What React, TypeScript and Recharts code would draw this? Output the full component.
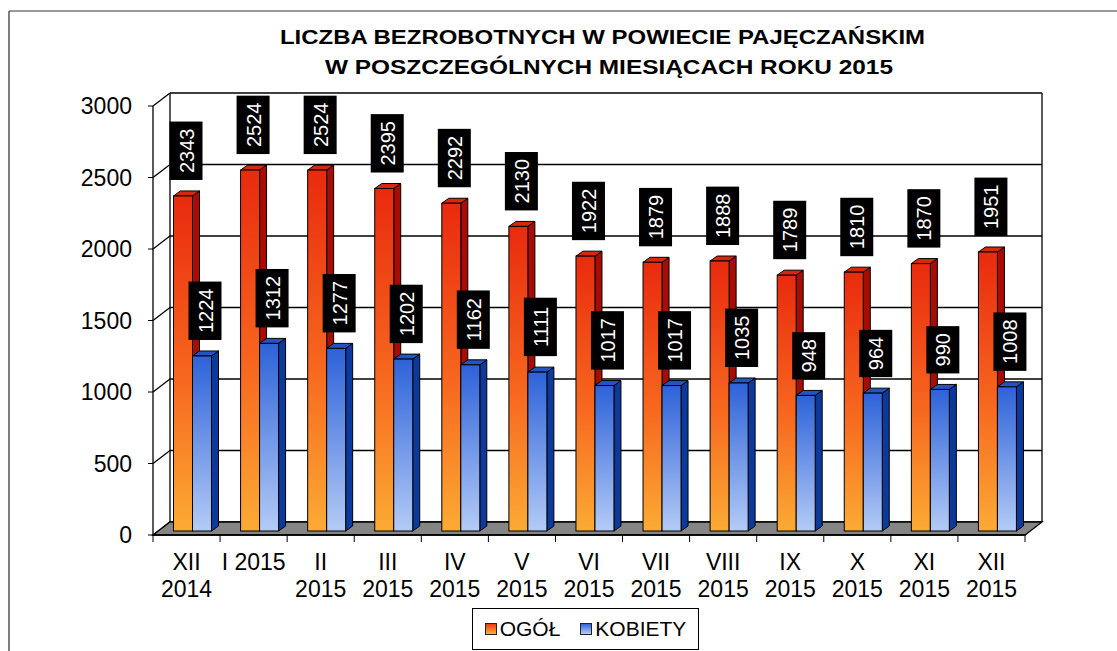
import React from 'react';
import { BarChart, Bar, XAxis, YAxis, CartesianGrid, Legend, LabelList, ReferenceArea } from 'recharts';

const months = ['XII\n2014', 'I 2015', 'II\n2015', 'III\n2015', 'IV\n2015', 'V\n2015', 'VI\n2015', 'VII\n2015', 'VIII\n2015', 'IX\n2015', 'X\n2015', 'XI\n2015', 'XII\n2015'];
const ogol = [2343, 2524, 2524, 2395, 2292, 2130, 1922, 1879, 1888, 1789, 1810, 1870, 1951];
const kobiety = [1224, 1312, 1277, 1202, 1162, 1111, 1017, 1017, 1035, 948, 964, 990, 1008];
const yTicks = [0, 500, 1000, 1500, 2000, 2500, 3000];

const data = months.map((m, i) => ({ month: m, ogol: ogol[i], kobiety: kobiety[i] }));

const FONT = 'Arial, "Liberation Sans", sans-serif';
const W = 1117;
const H = 651;
const PLOT_LEFT = 153;
const PLOT_RIGHT = 1025;
const HALF_BAND = (PLOT_RIGHT - PLOT_LEFT) / months.length / 2;
// 3D wall offset
const DX = 17;
const DY = 13;
// bar front offset and depth
const OX = 5.5;
const OY = 4;
const BD = 7;
const BDY = 5;

const make3DBar = (side: string, topC: string) => (props: any) => {
  const { x, y, width, height, fill } = props;
  if (!height || height <= 0) return null;
  const fx = x + OX;
  const fy = y - OY;
  return (
    <g>
      <polygon
        points={`${fx + width},${fy} ${fx + width + BD},${fy - BDY} ${fx + width + BD},${fy + height - BDY} ${fx + width},${fy + height}`}
        fill={side}
        stroke="#000"
        strokeWidth={1}
      />
      <polygon
        points={`${fx},${fy} ${fx + BD},${fy - BDY} ${fx + width + BD},${fy - BDY} ${fx + width},${fy}`}
        fill={topC}
        stroke="#000"
        strokeWidth={1}
      />
      <rect x={fx} y={fy} width={width} height={height} fill={fill} stroke="#000" strokeWidth={1} />
    </g>
  );
};

const renderLabel = (props: any) => {
  const { x, y, width, value } = props;
  const txt = String(value);
  const cx = x + OX + width / 2 + 3;
  const bottom = y - OY - 16;
  const h = txt.length * 11.1 + 14;
  const w = 33;
  return (
    <g>
      <rect x={cx - w / 2} y={bottom - h} width={w} height={h} fill="#000" />
      <text
        transform={`translate(${cx + 7.5},${bottom - h / 2}) rotate(-90)`}
        textAnchor="middle"
        fill="#fff"
        fontSize={20}
        fontFamily={FONT}
      >
        {txt}
      </text>
    </g>
  );
};

const gridLine = (p: any) => {
  const { x1, y1, x2 } = p;
  return (
    <g key={p.key}>
      <line x1={x1} y1={y1} x2={x1 + DX} y2={y1 - DY} stroke="#000" strokeWidth={1.3} />
      <line x1={x1 + DX} y1={y1 - DY} x2={x2 + DX} y2={y1 - DY} stroke="#000" strokeWidth={1.3} />
    </g>
  );
};

const walls = (p: any) => {
  const { x, y, width, height } = p;
  const L = x;
  const R = x + width;
  const T = y;
  const B = y + height;
  return (
    <g>
      <line x1={L + DX} y1={T - DY} x2={L + DX} y2={B - DY} stroke="#000" strokeWidth={1.3} />
      <line x1={R + DX} y1={T - DY} x2={R + DX} y2={B - DY} stroke="#000" strokeWidth={1.3} />
      <polygon
        points={`${L},${B} ${R},${B} ${R + DX},${B - DY} ${L + DX},${B - DY}`}
        fill="#858585"
        stroke="#000"
        strokeWidth={1.3}
      />
    </g>
  );
};

const XTick = (props: any) => {
  const { x, y, payload, index } = props;
  const lines = String(payload.value).split('\n');
  return (
    <g>
      <line x1={x - HALF_BAND} y1={y} x2={x - HALF_BAND} y2={y + 7} stroke="#000" />
      {index === months.length - 1 && (
        <line x1={x + HALF_BAND} y1={y} x2={x + HALF_BAND} y2={y + 7} stroke="#000" />
      )}
      <text textAnchor="middle" fontSize={23} fontFamily={FONT} fill="#000">
        {lines.map((l, i) => (
          <tspan key={i} x={x} y={y + 35 + i * 27}>
            {l}
          </tspan>
        ))}
      </text>
    </g>
  );
};

const legendItems = [
  { label: 'OGÓŁ', grad: 'linear-gradient(#ee3a14, #fbb03a)' },
  { label: 'KOBIETY', grad: 'linear-gradient(#2f66dc, #b6cdf8)' },
];

const LegendBox = () => (
  <div
    style={{
      border: '1px solid #000',
      boxSizing: 'border-box',
      height: 42,
      width: 227,
      display: 'flex',
      alignItems: 'center',
      justifyContent: 'center',
      gap: 20,
      fontFamily: FONT,
      fontSize: 21,
      color: '#000',
    }}
  >
    {legendItems.map((it) => (
      <div key={it.label} style={{ display: 'flex', alignItems: 'center', gap: 3 }}>
        <span style={{ width: 10, height: 10, background: it.grad, border: '1px solid #222', display: 'inline-block' }} />
        <span>{it.label}</span>
      </div>
    ))}
  </div>
);

export default function App() {
  return (
    <div style={{ position: 'absolute', left: 0, top: 0, width: W, height: H, background: '#fff' }}>
      <BarChart
        width={W}
        height={H}
        data={data}
        margin={{ top: 106, right: W - PLOT_RIGHT, left: PLOT_LEFT - 60, bottom: 1 }}
        barGap={0}
        barSize={19}
      >
        <defs>
          <linearGradient id="gOrange" x1="0" y1="0" x2="0" y2="1">
            <stop offset="0%" stopColor="#e92a0e" />
            <stop offset="55%" stopColor="#f7681f" />
            <stop offset="100%" stopColor="#fbab34" />
          </linearGradient>
          <linearGradient id="gBlue" x1="0" y1="0" x2="0" y2="1">
            <stop offset="0%" stopColor="#2d62d8" />
            <stop offset="100%" stopColor="#b4cbf6" />
          </linearGradient>
        </defs>
        <ReferenceArea y1={0} y2={3000} shape={walls} ifOverflow="visible" />
        <CartesianGrid horizontal={gridLine} vertical={false} />
        <XAxis
          dataKey="month"
          height={73}
          tick={<XTick />}
          tickLine={false}
          tickSize={0}
          tickMargin={0}
          interval={0}
          axisLine={{ stroke: '#000', strokeWidth: 1.3 }}
        />
        <YAxis
          width={60}
          domain={[0, 3000]}
          ticks={yTicks}
          tickSize={5}
          tickMargin={16}
          tickLine={{ stroke: '#000' }}
          axisLine={{ stroke: '#000', strokeWidth: 1.3 }}
          tick={{ fill: '#000', fontSize: 23, fontFamily: FONT }}
        />
        <Legend
          verticalAlign="bottom"
          content={<LegendBox />}
          wrapperStyle={{ left: 472, width: 227 }}
        />
        <Bar dataKey="ogol" name="OGÓŁ" fill="url(#gOrange)" shape={make3DBar('#a80c04', '#d8280c')} isAnimationActive={false}>
          <LabelList dataKey="ogol" content={renderLabel} />
        </Bar>
        <Bar dataKey="kobiety" name="KOBIETY" fill="url(#gBlue)" shape={make3DBar('#0c3a9c', '#2454c4')} isAnimationActive={false}>
          <LabelList dataKey="kobiety" content={renderLabel} />
        </Bar>
      </BarChart>
      <svg width={W} height={H} style={{ position: 'absolute', left: 0, top: 0, pointerEvents: 'none' }}>
        <line x1={9} y1={11} x2={W} y2={11} stroke="#777" strokeWidth={1.5} />
        <line x1={9} y1={11} x2={9} y2={H} stroke="#555" strokeWidth={1.5} />
        <text x={280} y={44} fontSize={20} fontWeight="bold" fontFamily={FONT} textLength={645} lengthAdjust="spacingAndGlyphs">
          LICZBA BEZROBOTNYCH W POWIECIE PAJĘCZAŃSKIM
        </text>
        <text x={325} y={74} fontSize={20} fontWeight="bold" fontFamily={FONT} textLength={568} lengthAdjust="spacingAndGlyphs">
          W POSZCZEGÓLNYCH MIESIĄCACH ROKU 2015
        </text>
      </svg>
    </div>
  );
}
